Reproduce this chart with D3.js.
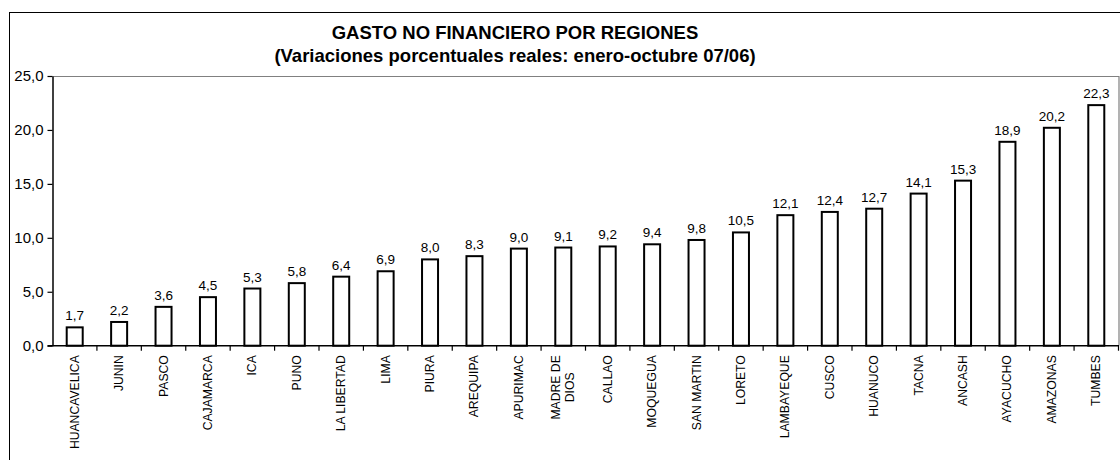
<!DOCTYPE html>
<html>
<head>
<meta charset="utf-8">
<script src="https://cdn.jsdelivr.net/npm/d3@7"></script>
<style>
  body { margin: 0; background: #fff; }
  svg { display: block; font-family: "Liberation Sans", Arial, sans-serif; }
</style>
</head>
<body>
<div id="chart"></div>
<script>
var regions = ["HUANCAVELICA", "JUNIN", "PASCO", "CAJAMARCA", "ICA", "PUNO", "LA LIBERTAD", "LIMA",
  "PIURA", "AREQUIPA", "APURIMAC", "MADRE DE DIOS", "CALLAO", "MOQUEGUA", "SAN MARTIN", "LORETO",
  "LAMBAYEQUE", "CUSCO", "HUANUCO", "TACNA", "ANCASH", "AYACUCHO", "AMAZONAS", "TUMBES"];
var variations = [1.7, 2.2, 3.6, 4.5, 5.3, 5.8, 6.4, 6.9, 8.0, 8.3, 9.0, 9.1, 9.2, 9.4, 9.8, 10.5,
  12.1, 12.4, 12.7, 14.1, 15.3, 18.9, 20.2, 22.3];
var yTicks = [0, 5, 10, 15, 20, 25];
var titleLines = ["GASTO NO FINANCIERO POR REGIONES", "(Variaciones porcentuales reales: enero-octubre 07/06)"];

var W = 1120, H = 460;
var plot = {left: 52.5, right: 1118.5, top: 76, bottom: 345.7};

var svg = d3.select("#chart").append("svg").attr("width", W).attr("height", H);

// outer frame
svg.append("rect")
  .attr("x", 9.5).attr("y", 12.5)
  .attr("width", 1130).attr("height", 470)
  .attr("fill", "none").attr("stroke", "#000").attr("stroke-width", 1);

// title
svg.append("g").selectAll("text")
  .data(titleLines)
  .enter().append("text")
  .attr("x", 515)
  .attr("y", function (d, i) { return 38.5 + i * 23; })
  .attr("text-anchor", "middle")
  .attr("font-size", 18.5)
  .attr("font-weight", "bold")
  .text(function (d) { return d; });

var x = d3.scaleBand().domain(regions).range([plot.left, plot.right]);
var y = d3.scaleLinear().domain([0, 25]).range([plot.bottom, plot.top]);

var fmt = function (v) { return d3.format(".1f")(v).replace(".", ","); };

// plot area frame (gray top/right)
svg.append("path")
  .attr("d", "M" + plot.left + "," + (plot.top + 0.5) + "H" + (plot.right + 0.5) + "V" + plot.bottom)
  .attr("fill", "none").attr("stroke", "#808080").attr("stroke-width", 1.2);

// bars
var barW = 16;
svg.append("g").selectAll("rect")
  .data(variations)
  .enter().append("rect")
  .attr("x", function (d, i) { return x(regions[i]) + x.bandwidth() / 2 - barW / 2; })
  .attr("y", function (d) { return y(d); })
  .attr("width", barW)
  .attr("height", function (d) { return y(0) - y(d); })
  .attr("fill", "#fff").attr("stroke", "#000").attr("stroke-width", 2);

// value labels
svg.append("g").selectAll("text")
  .data(variations)
  .enter().append("text")
  .attr("x", function (d, i) { return x(regions[i]) + x.bandwidth() / 2; })
  .attr("y", function (d) { return y(d) - 7; })
  .attr("text-anchor", "middle")
  .attr("font-size", 13.5)
  .text(fmt);

// y axis
var yAxis = svg.append("g")
  .attr("transform", "translate(" + plot.left + ",0)")
  .call(d3.axisLeft(y).tickValues(yTicks).tickSize(5).tickSizeOuter(0).tickFormat(fmt));
yAxis.select(".domain").attr("stroke", "#000").attr("stroke-width", 1.5);
yAxis.selectAll(".tick line").attr("stroke", "#000").attr("stroke-width", 1.2);
yAxis.selectAll(".tick text")
  .attr("x", -9)
  .attr("font-size", 15)
  .attr("font-family", "'Liberation Sans', Arial, sans-serif")
  .attr("fill", "#000");

// x axis: ticks on category boundaries
var boundaries = regions.map(function (r) { return x(r) + x.bandwidth(); });
svg.append("g").selectAll("line")
  .data(boundaries)
  .enter().append("line")
  .attr("x1", function (d) { return d; }).attr("x2", function (d) { return d; })
  .attr("y1", plot.bottom).attr("y2", plot.bottom + 5)
  .attr("stroke", "#000").attr("stroke-width", 1.2);
svg.append("line")
  .attr("x1", plot.left - 5).attr("x2", plot.right + 0.5)
  .attr("y1", plot.bottom).attr("y2", plot.bottom)
  .attr("stroke", "#000").attr("stroke-width", 1.5);

// rotated category labels
var labelTop = plot.bottom + 9.5;
var labelWrap = {"MADRE DE DIOS": ["MADRE DE", "DIOS"]};
regions.forEach(function (r) {
  var lines = labelWrap[r] || [r];
  var cx = x(r) + x.bandwidth() / 2;
  var g = svg.append("g");
  var texts = lines.map(function (t) {
    return g.append("text").attr("font-size", 12.2).text(t);
  });
  var maxLen = d3.max(texts, function (t) { return t.node().getComputedTextLength(); });
  var lineH = 14;
  texts.forEach(function (t, i) {
    var off = (i - (lines.length - 1) / 2) * lineH;
    var px = cx + off + 4;
    var py = labelTop + maxLen / 2;
    t.attr("text-anchor", "middle")
      .attr("transform", "translate(" + px + "," + py + ") rotate(-90)");
  });
});
</script>
</body>
</html>
